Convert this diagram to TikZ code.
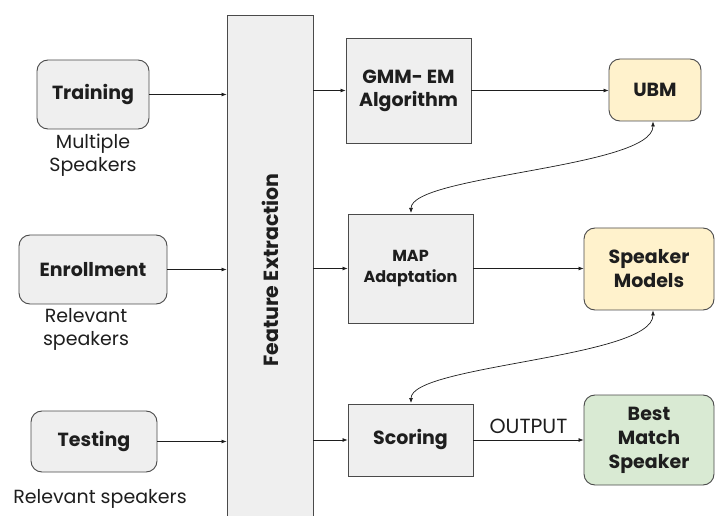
\documentclass[tikz,border=0pt]{standalone}
\usepackage{fontspec}
\setmainfont{Poppins}
\usetikzlibrary{arrows.meta}
\definecolor{boxgray}{HTML}{EFEFEF}
\definecolor{edge}{HTML}{4A4A4A}
\definecolor{ylw}{HTML}{FFF2CC}
\definecolor{grn}{HTML}{D9EAD3}
\definecolor{txt}{HTML}{1E1E1E}
\tikzset{
  base/.style={draw=edge, line width=0.9pt, fill=boxgray, align=center, text=txt, inner sep=2pt},
  rbox/.style={base, rounded corners=11pt, font=\bfseries\fontsize{19}{24}\selectfont},
  sbox/.style={base, font=\bfseries\fontsize{19}{23}\selectfont},
  lbl/.style={align=center, text=txt, font=\fontsize{19}{23}\selectfont, inner sep=0pt},
  arr/.style={draw=txt, line width=0.7pt, -{Latex[length=5pt,width=4pt]}},
  barr/.style={draw=txt, line width=0.7pt, {Latex[length=5pt,width=4pt]}-{Latex[length=5pt,width=4pt]}}
}
\begin{document}
\begin{tikzpicture}[x=1pt,y=-1pt]
\useasboundingbox (0,0) rectangle (716,516);
\fill[white] (0,0) rectangle (716,516);
\begin{scope}
\clip (0,0) rectangle (716,516);
\node[base, minimum width=86pt, minimum height=510pt] (fe) at (270,270) {};
\end{scope}
\node[rotate=90, text=txt, font=\bfseries\fontsize{20.5}{24}\selectfont] (fetxt) at (270,270) {Feature Extraction};

\node[rbox, minimum width=112pt, minimum height=69pt] (train) at (93,94.5) {Training};
\node[rbox, minimum width=148pt, minimum height=69pt] (enroll) at (93,269.5) {Enrollment};
\node[rbox, minimum width=126pt, minimum height=61pt] (test) at (94,441.5) {Testing};

\node[lbl] (l1) at (93,155) {Multiple\\Speakers};
\node[lbl] (l2) at (86,329) {Relevant\\speakers};
\node[lbl] (l3) at (100,499) {Relevant speakers};

\node[sbox, minimum width=125pt, minimum height=105pt] (gmm) at (408.5,90.5) {GMM- EM\\Algorithm};
\node[sbox, minimum width=125pt, minimum height=109pt, font=\bfseries\fontsize{16}{21}\selectfont] (map) at (410.5,268.5) {MAP\\Adaptation};
\node[sbox, minimum width=125pt, minimum height=72pt] (score) at (410.5,440) {Scoring};

\node[rbox, fill=ylw, minimum width=92pt, minimum height=62pt] (ubm) at (655,90) {UBM};
\node[rbox, fill=ylw, minimum width=130pt, minimum height=82pt] (spk) at (649,269) {Speaker\\Models};
\node[rbox, fill=grn, minimum width=130pt, minimum height=90pt] (best) at (649,440) {Best\\Match\\Speaker};

\draw[arr] (train.east) -- (train.east -| fe.west);
\draw[arr] (enroll.east) -- (enroll.east -| fe.west);
\draw[arr] (test.east) -- (test.east -| fe.west);

\draw[arr] (gmm.west -| fe.east) -- (gmm.west);
\draw[arr] (map.west -| fe.east) -- (map.west);
\draw[arr] (score.west -| fe.east) -- (score.west);

\draw[arr] (gmm.east) -- (gmm.east -| ubm.west);
\draw[arr] (map.east) -- (map.east -| spk.west);
\draw[arr] (score.east) -- node[lbl, above=6pt, font=\fontsize{20.5}{24}\selectfont] (out) {OUTPUT} (score.east -| best.west);

\coordinate (ubmb) at ([xshift=-2pt]ubm.south);
\coordinate (spkb) at ([xshift=4pt]spk.south);
\coordinate (mapt) at (411,213);
\coordinate (scot) at (411,403);
\draw[barr] (mapt) .. controls (411,175) and (653,168) .. (ubmb);
\draw[barr] (scot) .. controls (411,365) and (653,358) .. (spkb);
\end{tikzpicture}
\end{document}
